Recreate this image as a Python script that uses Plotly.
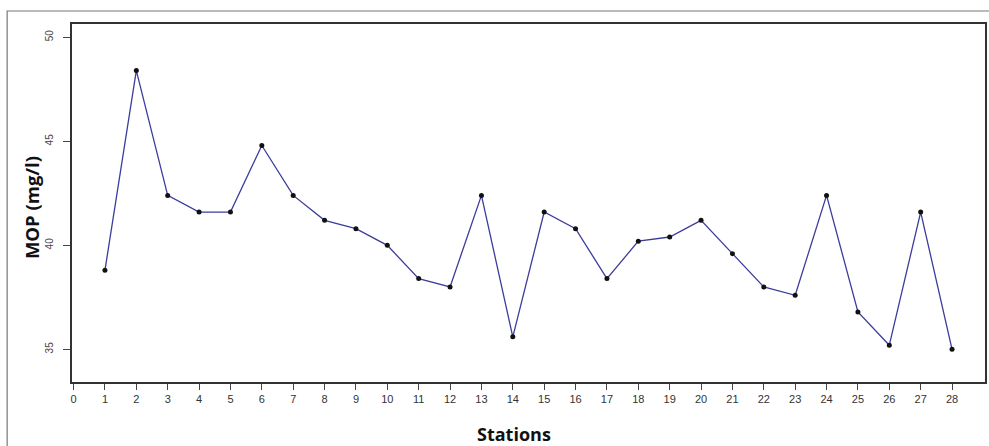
import plotly.graph_objects as go

# MOP concentration (mg/l) measured at each sampling station
stations = list(range(1, 29))
mop = [38.8, 48.4, 42.4, 41.6, 41.6, 44.8, 42.4, 41.2, 40.8, 40.0,
       38.4, 38.0, 42.4, 35.6, 41.6, 40.8, 38.4, 40.2, 40.4, 41.2,
       39.6, 38.0, 37.6, 42.4, 36.8, 35.2, 41.6, 35.0]

x_ticks = list(range(0, 29))
y_ticks = [35, 40, 45, 50]

fig = go.Figure()
fig.add_trace(go.Scatter(
    x=stations, y=mop, mode="lines+markers",
    line=dict(color="#3c3c9c", width=1.3),
    marker=dict(color="#111111", size=5),
    showlegend=False,
))

fig.update_layout(
    width=989, height=446,
    margin=dict(l=72, r=2, t=24, b=64),
    paper_bgcolor="white", plot_bgcolor="white",
    font=dict(family="Liberation Sans, Arial, sans-serif", color="#333333"),
    xaxis=dict(
        range=[-0.05, 29.05], tickmode="array", tickvals=x_ticks,
        ticktext=[str(v) for v in x_ticks],
        showgrid=False, zeroline=False,
        showline=True, mirror=True, linecolor="#333333", linewidth=1.5,
        ticks="outside", ticklen=6, tickcolor="#444444",
        tickfont=dict(size=11, color="#333333"),
    ),
    yaxis=dict(
        range=[33.43, 50.64], tickmode="array", tickvals=y_ticks,
        ticktext=[str(v) for v in y_ticks],
        showgrid=False, zeroline=False,
        showline=True, mirror=True, linecolor="#333333", linewidth=1.5,
        ticks="outside", ticklen=7, tickcolor="#444444",
        tickangle=-90, ticklabelstandoff=6,
        tickfont=dict(size=10, color="#444444"),
    ),
    annotations=[
        dict(text="<b>MOP (mg/l)</b>", xref="paper", yref="paper",
             x=(31 - 72) / 915, y=(382 - 208) / 358, textangle=-90,
             showarrow=False, xanchor="center", yanchor="middle",
             font=dict(family="Open Sans, sans-serif", size=18.5, color="#111111")),
        dict(text="<b>Stations</b>", xref="paper", yref="paper",
             x=(515 - 72) / 915, y=(382 - 434) / 358,
             showarrow=False, xanchor="center", yanchor="middle",
             font=dict(family="Open Sans, sans-serif", size=18, color="#111111")),
    ],
    shapes=[
        # outer frame around the whole figure
        dict(type="rect", xref="paper", yref="paper",
             x0=(7 - 72) / 915, x1=(996 - 72) / 915,
             y0=(382 - 452) / 358, y1=(382 - 11) / 358,
             line=dict(color="#777777", width=1.2), layer="below"),
    ],
)

fig.write_html("out.html")
